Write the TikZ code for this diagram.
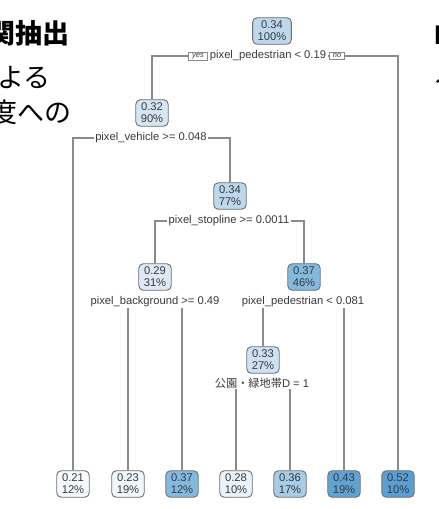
\documentclass[tikz,border=0pt]{standalone}
\usepackage{fontspec}
\setmainfont{Liberation Sans}
\newfontfamily\jpfont{Noto Sans CJK JP}
\usetikzlibrary{backgrounds}

\definecolor{txt}{HTML}{3A3A3A}
\definecolor{boxline}{HTML}{6E6E6E}
\definecolor{lncol}{HTML}{8A8A8A}
% fills by node value
\definecolor{c29}{HTML}{DDEAF6}
\definecolor{c32}{HTML}{D4E5F4}
\definecolor{c33}{HTML}{CEE1F2}
\definecolor{c34}{HTML}{BDD7ED}
\definecolor{c37}{HTML}{82B9DF}
% fills of the leaves
\definecolor{l21}{HTML}{F6F9FD}
\definecolor{l23}{HTML}{F2F7FC}
\definecolor{l37}{HTML}{82B9DF}
\definecolor{l28}{HTML}{EAF2FA}
\definecolor{l36}{HTML}{A8CBE6}
\definecolor{l43}{HTML}{5FA3D4}
\definecolor{l52}{HTML}{5A9FD3}

\begin{document}
\begin{tikzpicture}[x=1pt,y=-1pt,
    box/.style={draw=boxline,line width=0.9pt,rounded corners=4.5pt,inner xsep=5pt,inner ysep=3.3pt,
      align=center,text=txt,font=\fontsize{11.2}{12}\selectfont},
    split/.style={fill=white,inner xsep=1.5pt,inner ysep=1pt,text=txt,font=\fontsize{11.2}{13}\selectfont},
    yn/.style={draw=lncol,fill=white,inner xsep=3.5pt,inner ysep=1.3pt,text=txt,font=\fontsize{7.5}{8}\selectfont\itshape},
    branch/.style={draw=lncol,line width=1.2pt},
    frag/.style={anchor=base west,inner sep=0pt,font=\jpfont\fontsize{27}{30}\selectfont}]
  \clip (0,0) rectangle (439,509);
  % slide text cut off at the edges
  \node[frag,font=\jpfont\bfseries\fontsize{27}{30}\selectfont] (fragA) at (-12,43) {関抽出};
  \node[frag] (fragB) at (-3,87) {よる};
  \node[frag] (fragC) at (-10,122) {度への};
  \node[frag,font=\bfseries\fontsize{27}{30}\selectfont] (fragD) at (434,44) {D};
  \node[frag] (fragE) at (433,88) {ろ};
  % tree
  \node[box,fill=c34] (root) at (272,31) {0.34\\100\%};
  \node[split] (s1) at (268,56) {pixel\_pedestrian < 0.19};
  \node[yn] (yes) at (198,56) {yes};
  \node[yn] (no) at (337,56) {no};
  \node[box,fill=c32] (n2) at (152,113) {0.32\\90\%};
  \node[split] (s2) at (151,138) {pixel\_vehicle >= 0.048};
  \node[box,fill=c34] (n3) at (230,196) {0.34\\77\%};
  \node[split] (s3) at (229,221) {pixel\_stopline >= 0.0011};
  \node[box,fill=c29] (n4) at (155,277) {0.29\\31\%};
  \node[box,fill=c37] (n5) at (304,277) {0.37\\46\%};
  \node[split] (s4) at (155,302) {pixel\_background >= 0.49};
  \node[split] (s5) at (303,302) {pixel\_pedestrian < 0.081};
  \node[box,fill=c33] (n6) at (263,360) {0.33\\27\%};
  \node[split] (s6) at (262,383) {{\jpfont 公園・緑地帯}D = 1};
  \foreach \name/\x/\v/\p in {
    l21/73/0.21/12,
    l23/128/0.23/19,
    l37/182/0.37/12,
    l28/236/0.28/10,
    l36/290/0.36/17,
    l43/344/0.43/19,
    l52/398/0.52/10}
  {
    \node[box,fill=\name] (\name) at (\x,484) {\v\\\p\%};
  }
  \begin{scope}[on background layer]
    \draw[branch] (n2) |- (s1);
    \draw[branch] (s1) -| (l52);
    \draw[branch] (l21) |- (s2);
    \draw[branch] (s2) -| (n3);
    \draw[branch] (n4) |- (s3);
    \draw[branch] (s3) -| (n5);
    \draw[branch] (l23) |- (s4);
    \draw[branch] (s4) -| (l37);
    \draw[branch] (n6) |- (s5);
    \draw[branch] (s5) -| (l43);
    \draw[branch] (l28) |- (s6);
    \draw[branch] (s6) -| (l36);
  \end{scope}
\end{tikzpicture}
\end{document}
